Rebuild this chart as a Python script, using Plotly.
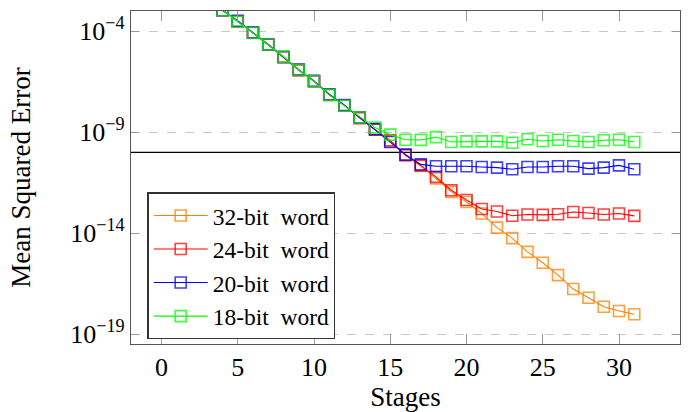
import numpy as np
import plotly.graph_objects as go

stages = list(range(1, 32))

# log10 of the mean squared error
log_mse_32 = [-1.15, -1.75, -2.35, -2.96, -3.51, -4.08, -4.66, -5.27, -5.90, -6.47, -7.13, -7.67, -8.27,
              -8.85, -9.45, -10.12, -10.67, -11.29, -11.95, -12.45, -13.02, -13.72, -14.24, -14.92,
              -15.46, -16.07, -16.76, -17.19, -17.64, -17.85, -18.01]
log_mse_24 = [-1.15, -1.75, -2.35, -2.96, -3.51, -4.08, -4.67, -5.29, -5.94, -6.48, -7.15, -7.68, -8.30,
              -8.87, -9.40, -10.14, -10.64, -11.21, -11.87, -12.35, -12.80, -12.92, -13.13, -13.07,
              -13.09, -13.06, -12.95, -13.00, -13.07, -13.02, -13.14]
log_mse_20 = [-1.15, -1.75, -2.35, -2.96, -3.49, -4.07, -4.66, -5.28, -5.90, -6.46, -7.12, -7.66, -8.27,
              -8.85, -9.48, -10.11, -10.59, -10.68, -10.68, -10.68, -10.72, -10.75, -10.83, -10.72,
              -10.72, -10.68, -10.68, -10.80, -10.75, -10.64, -10.83]
log_mse_18 = [-1.15, -1.75, -2.35, -2.96, -3.53, -4.09, -4.66, -5.26, -5.92, -6.48, -7.15, -7.69, -8.27,
              -8.77, -9.12, -9.37, -9.38, -9.24, -9.48, -9.45, -9.45, -9.45, -9.52, -9.35,
              -9.43, -9.37, -9.43, -9.48, -9.40, -9.37, -9.48]

series_names = ["32-bit\u2002word", "24-bit\u2002word", "20-bit\u2002word", "18-bit\u2002word"]
series_logs = [log_mse_32, log_mse_24, log_mse_20, log_mse_18]
series_colors = ["rgb(255,128,0)", "rgb(255,0,0)", "rgb(0,0,255)", "rgb(0,255,0)"]
marker_colors = ["rgba(255,128,0,0.75)", "rgba(255,0,0,0.75)", "rgba(0,0,255,0.75)", "rgba(0,255,0,0.75)"]

threshold = 1e-10
x_range = [-2, 34]
y_tickvals = [1e-4, 1e-9, 1e-14, 1e-19]
y_ticktext = ["10<sup>\u22124</sup>", "10<sup>\u22129</sup>", "10<sup>\u221214</sup>", "10<sup>\u221219</sup>"]
x_tickvals = [0, 5, 10, 15, 20, 25, 30]

FONT = "Liberation Serif, Times New Roman, serif"

fig = go.Figure()

fig.add_trace(go.Scatter(x=x_range, y=[threshold, threshold], mode="lines",
                         line=dict(color="black", width=1.3), showlegend=False, hoverinfo="skip"))

for name, logs, col, mcol in zip(series_names, series_logs, series_colors, marker_colors):
    fig.add_trace(go.Scatter(
        x=stages, y=10 ** np.array(logs), mode="lines+markers", name=name,
        line=dict(color=col, width=1.1),
        marker=dict(symbol="square-open", size=11, color=mcol, line=dict(color=mcol, width=1.6)),
    ))

fig.update_layout(
    width=689, height=412,
    margin=dict(l=131, r=9, t=11, b=68),
    paper_bgcolor="white", plot_bgcolor="white",
    font=dict(family=FONT, size=26, color="black"),
    showlegend=True,
    legend=dict(x=0.03, y=0.455, xanchor="left", yanchor="top",
                bgcolor="white", bordercolor="#333333", borderwidth=1.2,
                font=dict(family=FONT, size=23.5), tracegroupgap=0, itemwidth=54),
)

fig.update_xaxes(
    range=x_range, tickvals=x_tickvals, ticks="inside", ticklen=10, tickcolor="#999999",
    mirror="allticks", showline=True, linecolor="#555555", linewidth=1.3,
    showgrid=False, zeroline=False, automargin=False,
    tickfont=dict(family=FONT, size=26),
    title=dict(text="Stages", font=dict(family=FONT, size=27), standoff=19),
)
fig.update_yaxes(
    type="log", range=[-19.48, -3.0], tickvals=y_tickvals, ticktext=y_ticktext,
    ticks="inside", ticklen=8, tickcolor="#999999",
    mirror="allticks", showline=True, linecolor="#555555", linewidth=1.3,
    showgrid=True, gridcolor="#c8c8c8", griddash="dash", gridwidth=1, zeroline=False,
    automargin=False,
    tickfont=dict(family=FONT, size=26),
    title=dict(text="Mean Squared Error", font=dict(family=FONT, size=27), standoff=31),
)

fig.write_html("out.html", config={"displayModeBar": False},
               post_script="document.body.style.margin='0px';")
